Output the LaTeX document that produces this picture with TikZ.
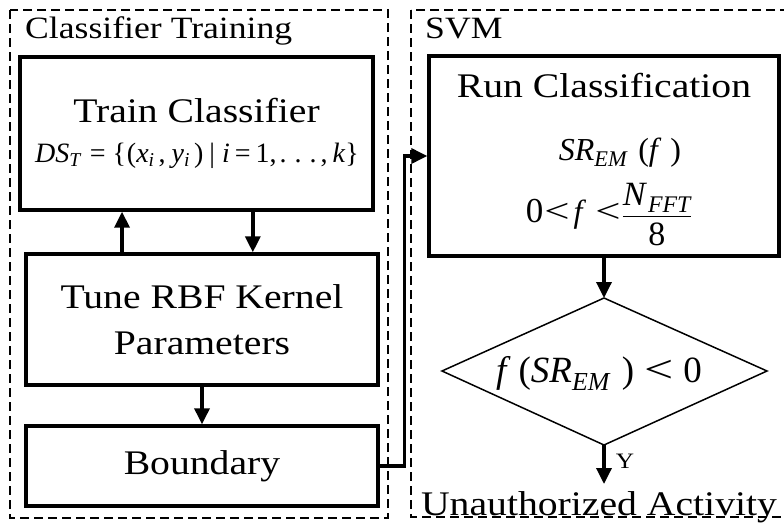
\documentclass[tikz,border=0pt]{standalone}
\usepackage{fontspec}
\setmainfont[FakeStretch=1.15]{Liberation Serif}
\newfontfamily\tmf{Liberation Serif}
\usetikzlibrary{arrows.meta,calc}
\newcommand{\wlt}{\scalebox{1.4}[1.05]{<}}
\tikzset{
  box/.style={draw, line width=3.4pt, inner sep=0pt},
  grp/.style={draw, line width=1.2pt, dash pattern=on 9pt off 5pt},
  arr/.style={line width=3.4pt, -{Triangle[length=16pt,width=15pt]}},
  lbl/.style={font=\fontsize{34.5}{46}\selectfont, inner sep=0pt, align=center},
  ttl/.style={font=\fontsize{31}{36}\selectfont, inner sep=0pt, anchor=base west},
  mth/.style={font=\tmf\fontsize{32}{36}\selectfont, inner sep=0pt},
  mths/.style={font=\tmf\fontsize{28}{30}\selectfont, inner sep=0pt},
  mthd/.style={font=\tmf\fontsize{37}{40}\selectfont, inner sep=0pt},
}
\begin{document}
\begin{tikzpicture}[x=1pt,y=-1pt]
\useasboundingbox (0,0) rectangle (784,522);
% groups
\draw[grp] (10,10) rectangle (388,518);
\draw[grp] (411,10) rectangle (800,517);
\node[ttl] (t1) at (25,38) {Classifier Training};
\node[ttl] (t2) at (425,38) {SVM};
% left column
\node[box, minimum width=353pt, minimum height=153pt] (train) at (196.5,133.5) {};
\node[lbl, anchor=base] (trainTxt) at (196.5,122) {Train Classifier};
\node[mths, anchor=base] (trainF) at (197,162) {\textit{DS}\textsubscript{\itshape T}\hspace{9pt}=\hspace{7pt}\{\hspace{1pt}(\textit{x}\textsubscript{\itshape i}\hspace{4pt},\hspace{6pt}\textit{y}\textsubscript{\itshape i}\hspace{4pt})\hspace{6pt}|\hspace{7pt}\textit{i}\hspace{5pt}=\hspace{5pt}1,\hspace{3pt}.\hspace{8pt}.\hspace{8pt}.\hspace{4pt},\hspace{5pt}\textit{k}\}};
\node[box, lbl, minimum width=352pt, minimum height=131pt] (tune) at (202,319.5) {Tune RBF Kernel\\Parameters};
\node[box, lbl, minimum width=352pt, minimum height=80pt] (bound) at (202,466) {Boundary};
% right column
\node[box, minimum width=350pt, minimum height=200pt] (run) at (604,156) {};
\node[lbl, anchor=base] (runTxt) at (604,97) {Run Classification};
\node[mth, anchor=base] (runF1) at (620,160) {\textit{SR}\textsubscript{\itshape EM}\hspace{11pt}(\textit{f}\hspace{9pt})};
\node[mth, anchor=base] (runF2) at (609,222) {{\fontsize{35}{36}\selectfont 0}\hspace{1pt}\wlt\hspace{4pt}\textit{f}\hspace{9pt}\wlt\hspace{1pt}$\displaystyle\frac{\mbox{\fontsize{34}{36}\selectfont\textit{N}\hspace{1pt}\textsubscript{\itshape FFT}}}{\mbox{\fontsize{34}{36}\selectfont\rule{0pt}{28pt}8}}$};
\coordinate (dt) at (604,298);
\coordinate (dr) at (767,371);
\coordinate (db) at (604,445);
\coordinate (dl) at (442,371);
\draw[line width=1.5pt, line join=miter] (dt) -- (dr) -- (db) -- (dl) -- cycle;
\node[mthd, anchor=base] (dia) at (599,382) {\textit{f}\hspace{8pt}(\textit{SR}\textsubscript{\itshape EM}\hspace{12pt})\hspace{10pt}\wlt\hspace{10pt}0};
\node[lbl, anchor=base] (ua) at (599,515) {Unauthorized Activity};
\coordinate (uaTop) at (604,484);
\node[font=\fontsize{22}{26}\selectfont, inner sep=0pt] (yl) at (625,461) {Y};
% connectors
\coordinate (upS) at ($(tune.north west)!0.275!(tune.north east)$);
\coordinate (dnS) at ($(train.south west)!0.658!(train.south east)$);
\draw[arr] (upS) -- (upS |- train.south);
\draw[arr] (dnS) -- (dnS |- tune.north);
\draw[arr] (tune.south) -- (bound.north);
\draw[arr] (bound.east) -- ++(25,0) |- (run.west);
\draw[arr] (run.south) -- (dt);
\draw[arr] (db) -- (uaTop);
\end{tikzpicture}
\end{document}
